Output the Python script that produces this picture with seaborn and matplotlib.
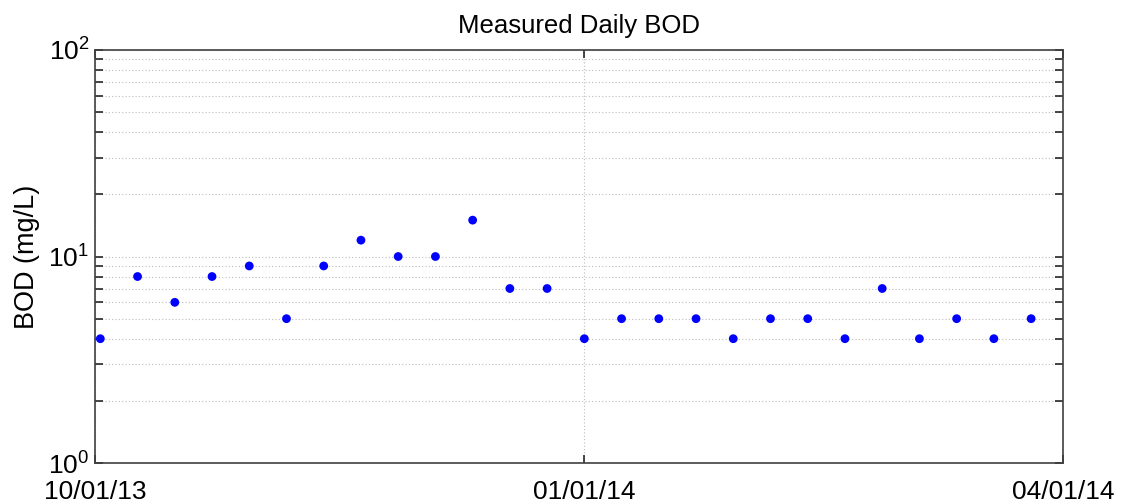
import matplotlib
matplotlib.use("Agg")
import matplotlib.pyplot as plt
import matplotlib.dates as mdates
from matplotlib.ticker import LogLocator, NullFormatter, FixedLocator
import seaborn as sns
import pandas as pd
import numpy as np

# Weekly BOD samples
sample_dates = pd.date_range("2013-10-02", "2014-03-26", freq="7D")
bod_mg_per_l = [4, 8, 6, 8, 9, 5, 9, 12, 10, 10, 15, 7, 7,
                4, 5, 5, 5, 4, 5, 5, 4, 7, 4, 5, 4, 5]
x_tick_dates = pd.to_datetime(["2013-10-01", "2014-01-01", "2014-04-01"])
x_tick_labels = ["10/01/13", "01/01/14", "04/01/14"]

df = pd.DataFrame({"date": sample_dates, "bod": bod_mg_per_l})

sns.set_style("white")
plt.rcParams["font.family"] = ["Liberation Sans", "DejaVu Sans"]
plt.rcParams["mathtext.fontset"] = "custom"
plt.rcParams["mathtext.rm"] = "Liberation Sans"
plt.rcParams["mathtext.it"] = "Liberation Sans"
plt.rcParams["mathtext.bf"] = "Liberation Sans"
plt.rcParams["text.color"] = "black"
plt.rcParams["axes.labelcolor"] = "black"
plt.rcParams["xtick.labelcolor"] = "black"
plt.rcParams["ytick.labelcolor"] = "black"

fig = plt.figure(figsize=(11.23, 5.04), dpi=100)
ax = fig.add_axes([0.0846, 0.0813, 0.8620, 0.8195])

sns.scatterplot(data=df, x="date", y="bod", ax=ax, color=(0, 0, 1),
                s=40, edgecolor="none", zorder=3, legend=False)

ax.set_yscale("log")
ax.set_ylim(1, 100)
ax.set_xlim(x_tick_dates[0], x_tick_dates[-1])

ax.xaxis.set_major_locator(FixedLocator(mdates.date2num(x_tick_dates)))
ax.set_xticklabels(x_tick_labels)

ax.yaxis.set_major_locator(FixedLocator([1, 10, 100]))
ax.set_yticklabels([r"$10^{0}$", r"$10^{1}$", r"$10^{2}$"])
ax.yaxis.set_minor_locator(LogLocator(base=10, subs=np.arange(2, 10), numticks=20))
ax.yaxis.set_minor_formatter(NullFormatter())

grid_kw = dict(color=(0.74, 0.74, 0.74), linestyle=(0, (1, 2)), linewidth=0.8)
ax.grid(True, which="major", axis="both", **grid_kw)
ax.grid(True, which="minor", axis="y", **grid_kw)
ax.set_axisbelow(True)

ax.tick_params(axis="both", which="both", direction="in",
               left=True, bottom=True, top=True, right=True,
               color=(0.15, 0.15, 0.15), width=1.2, length=6)
ax.tick_params(axis="both", which="major", labelsize=19, pad=4)
ax.tick_params(axis="x", which="major", pad=12)

for sp in ax.spines.values():
    sp.set_color((0.25, 0.25, 0.25))
    sp.set_linewidth(1.2)

ax.set_xlabel("")
ax.set_ylabel("BOD (mg/L)", fontsize=19.5, labelpad=6)
ax.set_title("Measured Daily BOD", fontsize=18.5, pad=12)

fig.savefig("out.png", dpi=100)
